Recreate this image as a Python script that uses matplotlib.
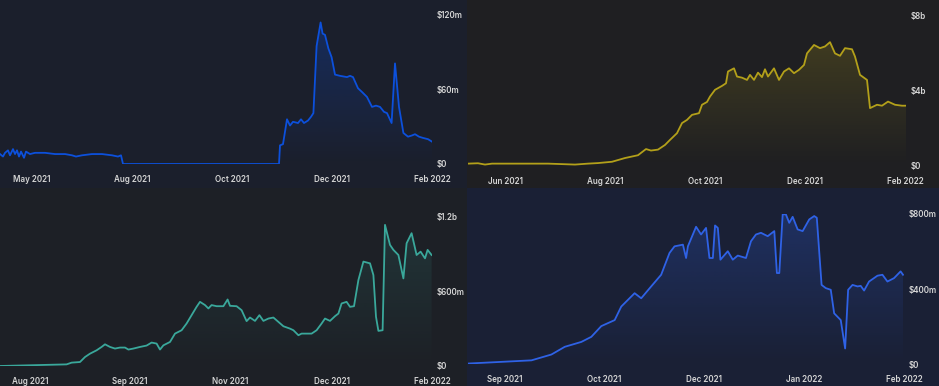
import numpy as np
import matplotlib
matplotlib.use("Agg")
import matplotlib.pyplot as plt
import matplotlib.colors as mcolors
from matplotlib.patches import Polygon

plt.rcParams['font.family'] = ['Inter', 'DejaVu Sans']

# --- Data (x = days since series start, values in millions / billions) ---
tl_days = [0, 1.5, 2.5, 4, 5, 6.5, 7.5, 8.5, 9.5, 10.5, 12, 13, 15, 17.5, 22.5, 27.5,
           32.5, 36, 38, 41, 46, 51, 56, 59, 60.5, 61.5, 139.5, 140, 141.5, 143.5,
           145, 146.5, 149, 150.5, 152, 154, 155.5, 156.7, 158.3, 160.3, 161.3, 162.5,
           164.2, 165.8, 167.5, 170, 173.5, 175, 176.5, 179, 181, 183.5, 186, 188,
           190, 192, 193.5, 195.8, 197.5, 199.5, 201.7, 204, 206, 207.5, 209.5,
           211.5, 214, 216]
tl_vals = [8, 6, 9, 11, 7, 12, 8, 11, 6, 10, 5, 10, 8, 9, 9, 8,
           8, 7, 6, 7, 8, 8, 7, 6, 7, 0, 0, 15, 16, 36,
           31, 34, 33, 36, 33, 35, 38, 41, 95, 114, 105, 104,
           93, 86, 72, 71, 70, 71, 70, 61, 58, 54, 46, 47,
           46, 42, 41, 33, 81, 46, 25, 22, 23, 24, 22,
           21, 20, 18]
tl_ticks = [16, 66, 116, 166, 216]
tl_labels = ['May 2021', 'Aug 2021', 'Oct 2021', 'Dec 2021', 'Feb 2022']

tr_days = [0, 5, 8.5, 12, 20, 40, 53.5, 60, 65, 72, 78.5, 85, 89, 91.5, 95, 98.5,
           101, 104.5, 107, 109.5, 112, 115.5, 117, 119.5, 121, 123.5, 127, 129,
           130, 133, 134.5, 137, 139.5, 141, 143, 145, 147, 148.5, 150, 153, 155.5,
           158, 160.5, 163, 165.5, 168, 169.5, 173, 176, 178.5, 181, 183.5, 186,
           188.5, 192, 193.5, 196, 199.5, 201, 204.5, 207, 210, 213.5, 217, 219]
tr_vals = [0.1, 0.12, 0.05, 0.1, 0.1, 0.1, 0.05, 0.1, 0.13, 0.2, 0.4, 0.55, 0.88, 0.8, 0.85, 1.1,
           1.37, 1.73, 2.27, 2.44, 2.71, 2.8, 3.25, 3.4, 3.69, 4.05, 4.26, 4.4,
           5.03, 5.2, 4.76, 4.7, 4.58, 4.85, 4.58, 4.97, 4.73, 5.15, 4.76, 5.2, 4.58,
           5.03, 5.2, 4.94, 5.12, 5.38, 6.0, 6.45, 6.28, 6.37, 6.6, 6.0, 5.87,
           6.28, 6.22, 5.83, 4.85, 4.58, 3.07, 3.25, 3.2, 3.42, 3.25, 3.2, 3.2]
tr_ticks = [18.5, 68.5, 118.5, 168.5, 218.5]
tr_labels = ['Jun 2021', 'Aug 2021', 'Oct 2021', 'Dec 2021', 'Feb 2022']

bl_days = [0, 33.3, 35.8, 40, 42.5, 45, 48.3, 50.8, 52.5, 55, 57.5, 60, 62.5, 64.2,
           66.7, 70, 73.3, 75.8, 78.3, 80, 81.7, 85, 87.5, 90.8, 93.3, 95.8, 98.3,
           100, 102.5, 104.2, 105.8, 108.3, 111.7, 113.8, 115, 118.3, 120.8, 123.3,
           125, 127.5, 129.7, 131.7, 134.2, 136.7, 139.2, 141.7, 145, 146.7, 149.2,
           150.8, 153.3, 155.8, 158.3, 160.8, 162.5, 165, 167.5, 169.2, 170.8, 173.3,
           175, 177, 179.2, 181.7, 185, 186.7, 188, 189.2, 191.3, 192.5, 195, 196.7,
           199.2, 201.7, 203.3, 205.8, 208.3, 210.3, 212.5, 213.8, 215.8]
bl_vals = [0, 13, 27, 32, 72, 99, 126, 153, 174, 153, 140, 148, 148, 132,
           140, 153, 164, 188, 180, 132, 166, 193, 260, 287, 341, 408, 475,
           515, 489, 462, 489, 480, 480, 534, 483, 480, 448, 360,
           389, 362, 408, 362, 381, 389, 354, 319, 300, 287, 247,
           260, 260, 260, 287, 341, 381, 362, 400, 421, 502, 515,
           475, 480, 690, 838, 824, 730, 395, 282, 287, 1133, 972, 932,
           891, 703, 985, 1066, 891, 918, 864, 932, 891]
bl_ticks = [15, 65, 115.3, 166, 216]
bl_labels = ['Aug 2021', 'Sep 2021', 'Nov 2021', 'Dec 2021', 'Feb 2022']

br_days = [0, 31.8, 41.8, 48.5, 56.8, 61.8, 66.8, 73.5, 76.8, 83.5, 86.8, 91.8, 96.8,
           101, 103.5, 107.7, 109.3, 110.2, 114.3, 116.8, 119.3, 121, 122.7, 123.8,
           125.2, 126.5, 130.2, 132.7, 135.2, 139.3, 141.8, 144.3, 146.8, 150.2,
           153.5, 154.8, 156, 157.7, 159.3, 161, 162.7, 165.2, 167.7, 171, 173.5,
           174.8, 177.2, 179.3, 181.8, 183.5, 186.8, 189, 190.5, 192.7, 195.2,
           196.8, 198.5, 201, 205.2, 207.7, 210.2, 213.5, 216.8, 218]
br_vals = [4, 21, 52, 93, 119, 146, 203, 235, 307, 378, 351, 414, 476,
           592, 627, 636, 565, 627, 731, 690, 725, 565, 565, 738,
           725, 556, 601, 556, 578, 565, 654, 690, 699, 681,
           708, 485, 485, 797, 797, 752, 784, 717, 708, 770, 788,
           779, 422, 405, 396, 271, 235, 84, 396, 422, 414,
           417, 392, 440, 471, 476, 440, 458, 494, 476]
br_ticks = [18.5, 68.5, 118.5, 168.5, 218.5]
br_labels = ['Sep 2021', 'Oct 2021', 'Dec 2021', 'Jan 2022', 'Feb 2022']

W, H = 939, 386
fig = plt.figure(figsize=(W / 100, H / 100), dpi=100)
fig.patch.set_facecolor('#1c1f27')


def px_axes(x0, y0, x1, y1, **kw):
    # pixel box (top-left origin) -> figure axes
    return fig.add_axes([x0 / W, 1 - y1 / H, (x1 - x0) / W, (y1 - y0) / H], **kw)


def panel(bg_box, plot_box, bg, days, vals, xmax, ymax, yticks, ylabels,
          ticks, labels, color, alpha):
    bga = px_axes(*bg_box)
    bga.set_facecolor(bg)
    bga.set_xticks([])
    bga.set_yticks([])
    for s in bga.spines.values():
        s.set_visible(False)

    ax = px_axes(*plot_box)
    ax.patch.set_alpha(0)
    ax.set_xlim(0, xmax)
    ax.set_ylim(0, ymax)
    for s in ax.spines.values():
        s.set_visible(False)

    line, = ax.plot(days, vals, color=color, lw=1.3, solid_joinstyle='round', zorder=3)

    # gradient area under the line
    z = np.empty((100, 1, 4))
    z[:, :, :3] = mcolors.to_rgb(color)
    z[:, :, 3] = np.linspace(0.0, alpha, 100)[:, None]
    top = max(vals)
    im = ax.imshow(z, aspect='auto', extent=[days[0], days[-1], 0, top],
                   origin='lower', zorder=2)
    verts = list(zip(days, vals)) + [(days[-1], 0), (days[0], 0)]
    clip = Polygon(verts, closed=True, facecolor='none', edgecolor='none')
    ax.add_patch(clip)
    im.set_clip_path(clip)
    ax.set_xlim(0, xmax)
    ax.set_ylim(0, ymax)

    ax.yaxis.tick_right()
    ax.set_yticks(yticks)
    ax.set_yticklabels(ylabels)
    ax.set_xticks(ticks)
    ax.set_xticklabels(labels)
    ax.tick_params(length=0, colors='#d6d6d6', labelsize=5.8)
    ax.tick_params(axis='y', pad=3)
    ax.tick_params(axis='x', pad=8)
    for t in ax.get_xticklabels() + ax.get_yticklabels():
        t.set_fontweight('semibold')
    return ax


panel((0, 0, 467, 188), (0, 15, 432, 164), '#1b1f2c', tl_days, tl_vals, 216, 120,
      [0, 60, 120], ['$0', '$60m', '$120m'], tl_ticks, tl_labels, '#0c50dc', 0.28)
panel((467, 0, 939, 188), (468, 16, 906, 165.5), '#1f1f22', tr_days, tr_vals, 219, 8,
      [0, 4, 8], ['$0', '$4b', '$8b'], tr_ticks, tr_labels, '#b3a01a', 0.22)
panel((0, 188, 467, 386), (0, 216.5, 432, 366), '#1d2026', bl_days, bl_vals, 216, 1200,
      [0, 600, 1200], ['$0', '$600m', '$1.2b'], bl_ticks, bl_labels, '#3aa89b', 0.16)
panel((467, 188, 939, 386), (468, 213.8, 904, 364.3), '#1a2035', br_days, br_vals, 218, 800,
      [0, 400, 800], ['$0', '$400m', '$800m'], br_ticks, br_labels, '#2f62e6', 0.25)

fig.savefig('out.png', dpi=100, facecolor=fig.get_facecolor())
